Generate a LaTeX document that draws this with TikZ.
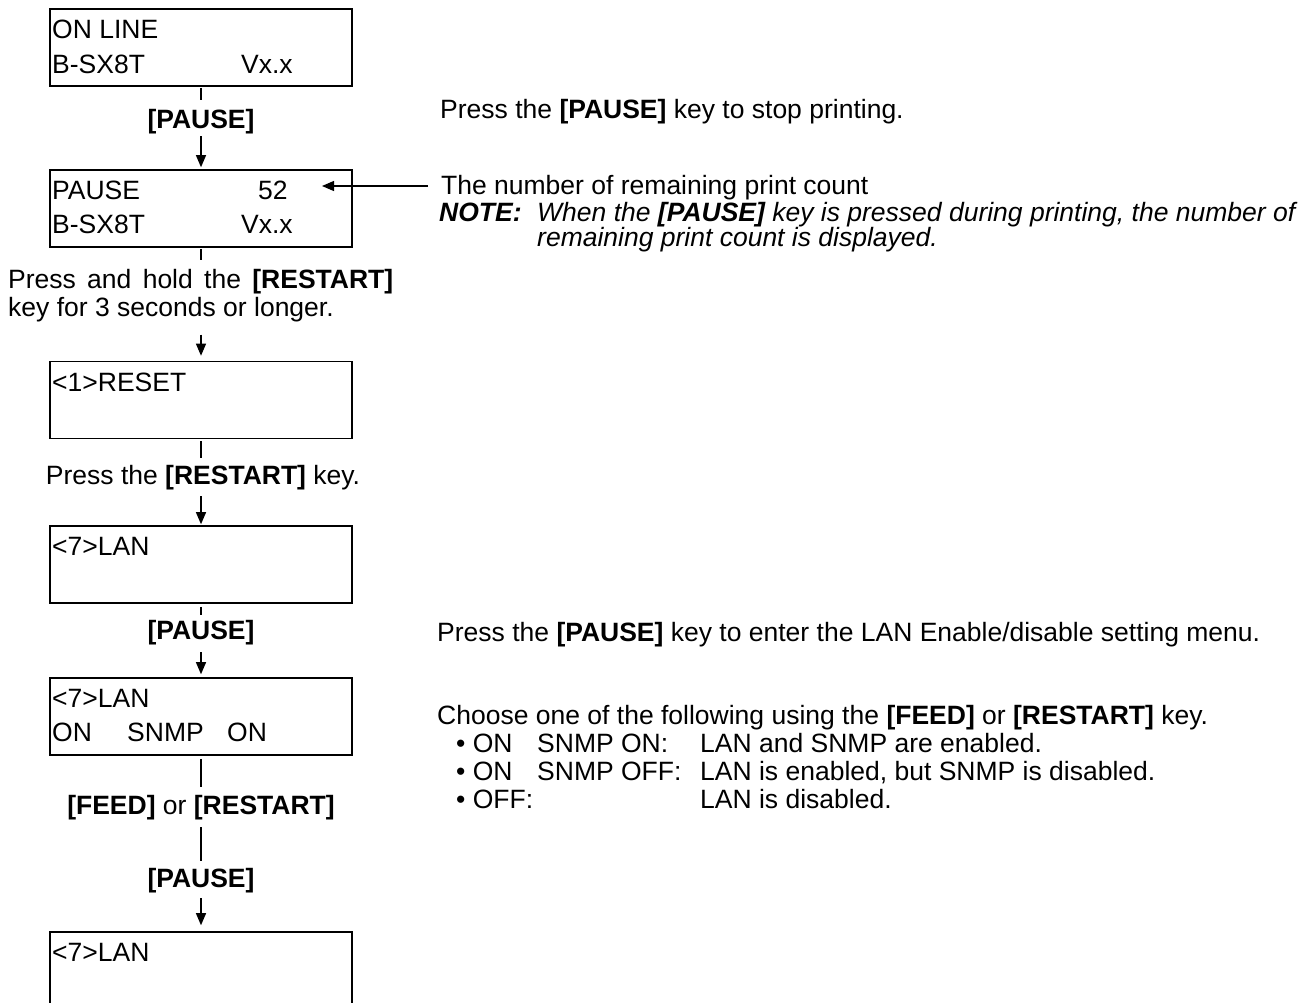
\documentclass[tikz,border=0pt]{standalone}
\usepackage{fontspec}
\setmainfont{Liberation Sans}
\usetikzlibrary{arrows.meta}
\newcommand{\myfs}{\fontsize{26.5}{30}\selectfont}
\begin{document}
\begin{tikzpicture}[x=1pt,y=-1pt,
  box/.style={draw, line width=1.6pt, minimum width=302pt, minimum height=77pt, inner sep=0pt},
  txt/.style={inner sep=0pt, anchor=base west, font=\myfs},
  lbl/.style={inner sep=0pt, text height=19pt, text depth=6pt, anchor=base, font=\myfs},
  con/.style={line width=1.2pt},
  arr/.style={con, -{Triangle[length=12pt,width=10pt]}},
]
\path[use as bounding box, clip] (0,0) rectangle (1307,1002);
\fill[white] (0,0) rectangle (1307,1002);

% boxes
\node[box] (b1) at (201,47.5) {};
\node[box] (b2) at (201,208.5) {};
\node[box] (b3) at (201,400) {};
\node[box] (b4) at (201,564.5) {};
\node[box] (b5) at (201,716.5) {};
\node[box] (b6) at (201,970.5) {};

% box texts
\node[txt] (t1a) at (52,38) {ON LINE};
\node[txt] (t1b) at (52,73) {B-SX8T};
\node[txt] (t1c) at (241,73) {Vx.x};
\node[txt] (t2a) at (52,199) {PAUSE};
\node[txt] (t2b) at (258,199) {52};
\node[txt] (t2c) at (52,233) {B-SX8T};
\node[txt] (t2d) at (241,233) {Vx.x};
\node[txt] (t3) at (52,391) {<1>RESET};
\node[txt] (t4) at (52,555) {<7>LAN};
\node[txt] (t5a) at (52,707) {<7>LAN};
\node[txt] (t5b) at (52,741) {ON};
\node[txt] (t5c) at (127,741) {SNMP};
\node[txt] (t5d) at (227,741) {ON};
\node[txt] (t6) at (52,961) {<7>LAN};

% labels between boxes
\node[lbl] (l1) at (201,128) {\bfseries [PAUSE]};
\node[txt] (l2a) at (8,288) {\makebox[385pt][s]{Press and hold the \textbf{[RESTART]}}};
\node[txt] (l2b) at (8,316) {key for 3 seconds or longer.};
\node[lbl] (l3) at (203,484) {Press the \textbf{[RESTART]} key.};
\node[lbl] (l4) at (201,639) {\bfseries [PAUSE]};
\node[lbl] (l5) at (201,814) {\textbf{[FEED]} or \textbf{[RESTART]}};
\node[lbl] (l6) at (201,887) {\bfseries [PAUSE]};

% connectors
\draw[con, shorten <=1pt, shorten >=9pt] (b1.south) -- (l1.north);
\draw[arr, shorten <=2pt, shorten >=2pt] (l1.south) -- (b2.north);
\draw[con, shorten <=1pt, shorten >=8.5pt] (b2.south) -- (b2.south |- l2a.north);
\draw[arr, shorten <=13pt, shorten >=5pt] (b3.north |- l2b.south) -- (b3.north);
\draw[con, shorten <=2pt, shorten >=7pt] (b3.south) -- (b3.south |- l3.north);
\draw[arr, shorten <=6pt, shorten >=1pt] (b4.north |- l3.south) -- (b4.north);
\draw[con, shorten <=3pt, shorten >=5pt] (b4.south) -- (l4.north);
\draw[arr, shorten <=7pt, shorten >=3pt] (l4.south) -- (b5.north);
\draw[con, shorten <=3pt, shorten >=8pt] (b5.south) -- (l5.north);
\draw[con, shorten <=7pt, shorten >=7pt] (l5.south) -- (l6.north);
\draw[arr, shorten <=5pt, shorten >=6pt] (l6.south) -- (b6.north);

% right-hand texts
\node[txt] (r1) at (440,118) {Press the \textbf{[PAUSE]} key to stop printing.};
\node[txt] (r2) at (441,194) {The number of remaining print count};
\coordinate (p2) at (322,186);
\draw[arr, shorten <=13pt] (r2.west |- p2) -- (p2);
\node[txt] (r3a) at (439,221) {\textbf{\textit{NOTE:}}};
\node[txt] (r3b) at (537,221) {\itshape When the \textbf{[PAUSE]} key is pressed during printing, the number of};
\node[txt] (r3c) at (537,246) {\itshape remaining print count is displayed.};

\node[txt] (r4) at (437,641) {Press the \textbf{[PAUSE]} key to enter the LAN Enable/disable setting menu.};
\node[txt] (r5) at (437,724) {Choose one of the following using the \textbf{[FEED]} or \textbf{[RESTART]} key.};
\node[txt] (r6a) at (456,752) {\textbullet\ ON};
\node[txt] (r6b) at (537,752) {SNMP ON:};
\node[txt] (r6c) at (700,752) {LAN and SNMP are enabled.};
\node[txt] (r7a) at (456,780) {\textbullet\ ON};
\node[txt] (r7b) at (537,780) {SNMP OFF:};
\node[txt] (r7c) at (700,780) {LAN is enabled, but SNMP is disabled.};
\node[txt] (r8a) at (456,808) {\textbullet\ OFF:};
\node[txt] (r8c) at (700,808) {LAN is disabled.};
\end{tikzpicture}
\end{document}
